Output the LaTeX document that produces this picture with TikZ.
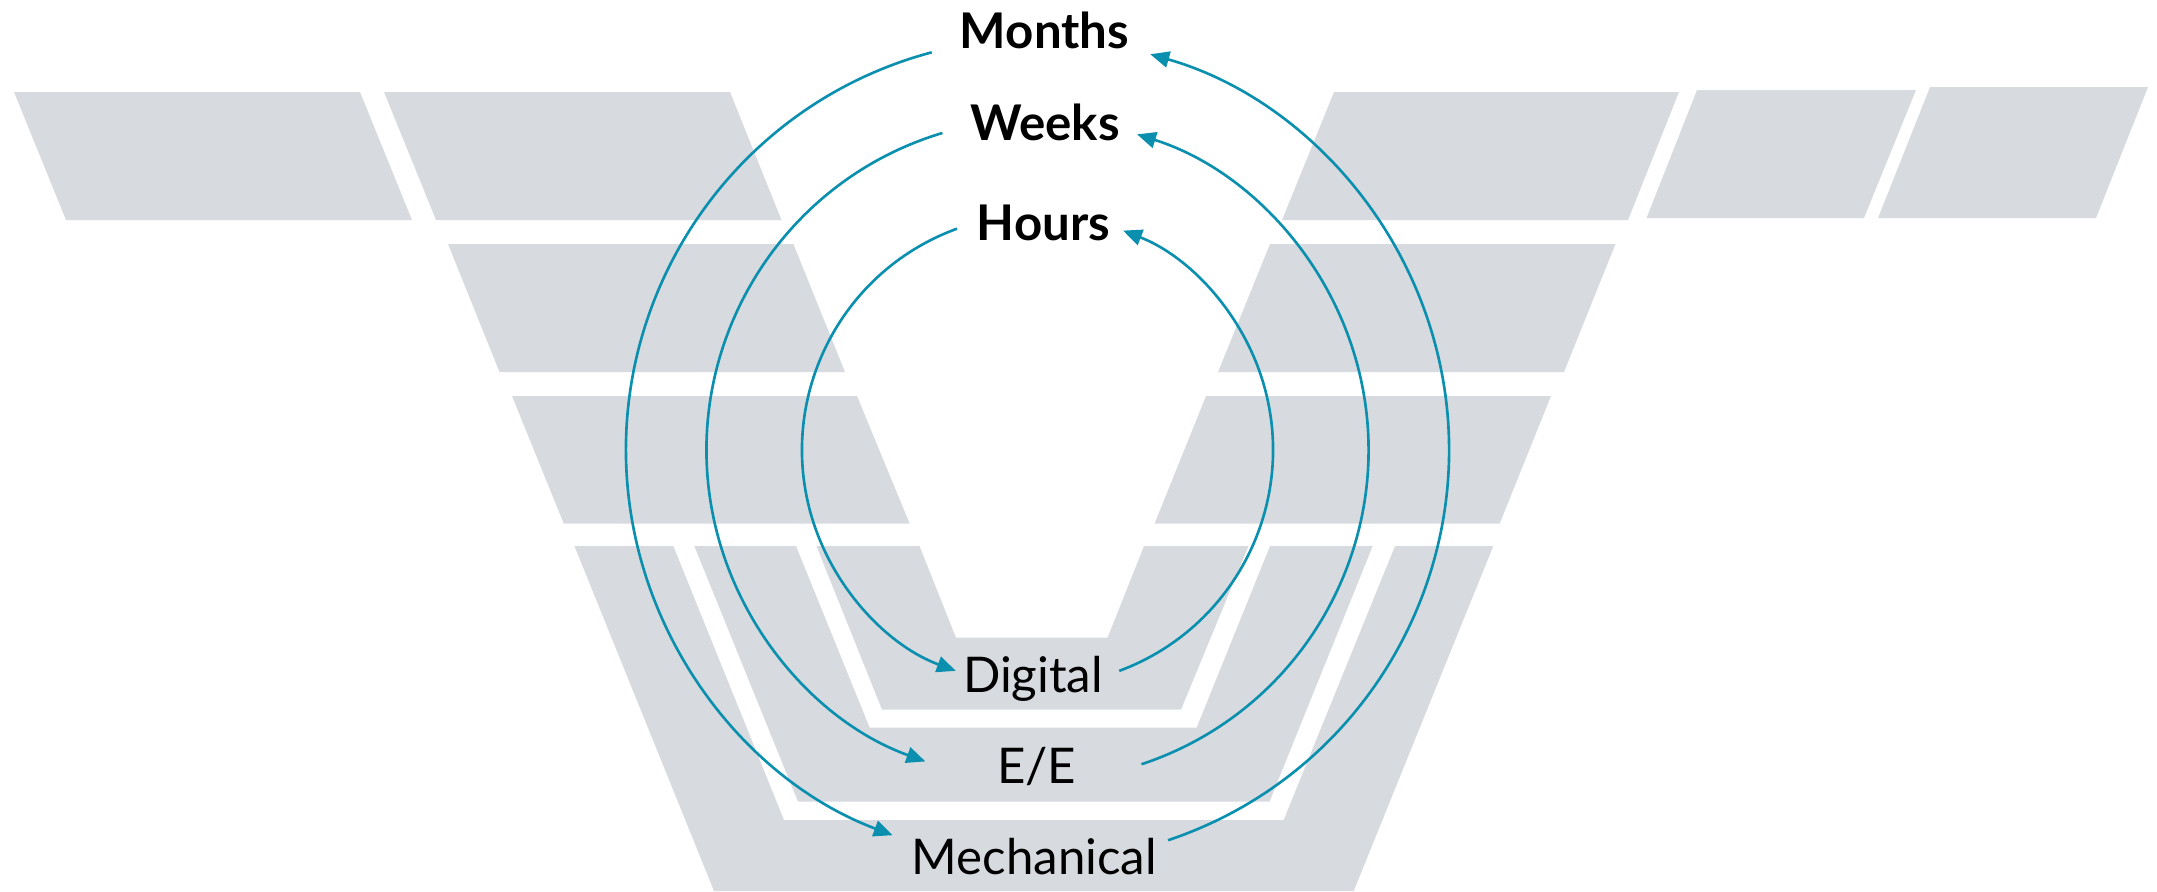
\documentclass[tikz,border=0pt]{standalone}
\usepackage{fontspec}
\setmainfont{Lato}
\usetikzlibrary{arrows.meta,calc}
\definecolor{greyband}{HTML}{D7DBDF}
\definecolor{cteal}{HTML}{0B8FAF}
\definecolor{ink}{HTML}{000000}
\tikzset{
  band/.style={fill=greyband},
  lab/.style={font=\fontsize{14}{16}\selectfont, text=ink, anchor=base, inner sep=0pt},
  cadence/.style={lab, font=\fontsize{14}{16}\selectfont\bfseries},
  cyc/.style={-{Triangle[length=5.4pt,width=4.6pt]}, line width=0.75pt, draw=cteal},
}
\begin{document}
\begin{tikzpicture}[x=1cm,y=1cm]
    \useasboundingbox (0,0) rectangle (21.57,8.91);
    % top row
    \fill[band] (0.14,7.99) -- (3.60,7.99) -- (4.12,6.71) -- (0.66,6.71) -- cycle;
    \fill[band] (3.84,7.99) -- (7.30,7.99) -- (7.815,6.71) -- (4.36,6.71) -- cycle;
    \fill[band] (13.34,7.99) -- (16.79,7.99) -- (16.28,6.71) -- (12.82,6.71) -- cycle;
    \fill[band] (16.97,8.01) -- (19.16,8.01) -- (18.64,6.73) -- (16.465,6.73) -- cycle;
    \fill[band] (19.30,8.04) -- (21.48,8.04) -- (20.96,6.73) -- (18.78,6.73) -- cycle;
    % middle rows
    \fill[band] (4.48,6.47) -- (7.934,6.47) -- (8.45,5.19) -- (4.995,5.19) -- cycle;
    \fill[band] (12.70,6.47) -- (16.155,6.47) -- (15.64,5.19) -- (12.18,5.19) -- cycle;
    \fill[band] (5.12,4.95) -- (8.57,4.95) -- (9.097,3.673) -- (5.638,3.673) -- cycle;
    \fill[band] (12.06,4.95) -- (15.51,4.95) -- (14.996,3.673) -- (11.545,3.673) -- cycle;
    % nested U shapes
    \fill[band] (5.744,3.45) -- (7.14,0) -- (13.537,0) -- (14.933,3.45) -- (13.95,3.45)
      -- (12.836,0.71) -- (7.84,0.71) -- (6.733,3.45) -- cycle;
    \fill[band] (6.943,3.45) -- (7.98,0.893) -- (12.695,0.893) -- (13.727,3.45) -- (12.70,3.45)
      -- (11.966,1.633) -- (8.697,1.633) -- (7.96,3.45) -- cycle;
    \fill[band] (8.164,3.45) -- (8.82,1.813) -- (11.81,1.813) -- (12.485,3.45) -- (11.44,3.45)
      -- (11.075,2.533) -- (9.56,2.533) -- (9.195,3.45) -- cycle;

    \node[cadence] (months) at (10.445,8.43) {Months};
    \node[cadence] (weeks) at (10.45,7.51) {Weeks};
    \node[cadence] (hours) at (10.435,6.51) {Hours};
    \node[lab] (digital) at (10.33,1.987) {Digital};
    \node[lab] (ee) at (10.368,1.077) {E/E};
    \node[lab] (mech) at (10.342,0.17) {Mechanical};

    % loops round the hub
    \coordinate (hub) at (10.375,4.41);
    \foreach \n/\r/\a/\b/\p/\q in {hrs/2.355/110/249.7/-69.7/68.7, wks/3.31/106.7/250.2/-71.7/72.5, mth/4.115/104.9/249.4/-71.5/74.1} {
      \coordinate (\n-l) at ($(hub)+(\a:\r)$);
      \coordinate (\n-r) at ($(hub)+(\p:\r)$);
      \draw[cyc] (\n-l) arc[start angle=\a, end angle=\b, radius=\r];
      \draw[cyc] (\n-r) arc[start angle=\p, end angle=\q, radius=\r];
    }
\end{tikzpicture}
\end{document}
